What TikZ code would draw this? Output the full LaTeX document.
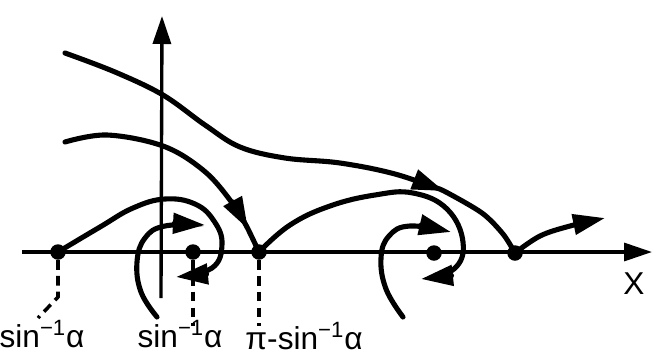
\documentclass[tikz,border=0pt]{standalone}
\usepackage{fontspec}
\setmainfont{Liberation Sans}
\usetikzlibrary{arrows.meta}
\newcommand{\asin}{sin\textsuperscript{−1}α}

\begin{document}
\begin{tikzpicture}[x=0.02cm,y=-0.02cm,
  flow/.style={line width=2.9pt,line cap=round},
  tip/.style={-{Triangle[length=6.4mm,width=4mm]}},
  dot/.style={circle,fill,inner sep=0pt,minimum size=0.31cm},
  guide/.style={line width=2pt,dash pattern=on 5.5pt off 3.5pt},
  lbl/.style={anchor=base,font=\fontsize{18}{20}\selectfont}]
\useasboundingbox (0,0) rectangle (662,356);
% axes
\draw[line width=1.9pt,-{Triangle[length=5.6mm,width=3.6mm]}] (22,252)--(652,252);
\draw[line width=1.9pt,-{Triangle[length=5.6mm,width=3.6mm]}] (161,298)--(162,16);
\node[lbl] (xlab) at (634,294) {X};
% equilibria
\node[dot] (p1) at (58,252) {};
\node[dot] (p2) at (193,252) {};
\node[dot] (p3) at (259,252) {};
\node[dot] (p4) at (434,253) {};
\node[dot] (p5) at (515,253) {};
% labels
\node[lbl] (l1) at (42,347) {\asin};
\node[lbl] (l2) at (180,347) {\asin};
\node[lbl] (l3) at (304,349) {π-\asin};
\coordinate (k1) at (58,297);
\coordinate (k2) at (38,318);
\draw[guide] (p1)--(k1)--(k2);
\draw[guide] (p2)--(193,326);
\draw[guide] (p3)--(259,326);
% trajectories
\coordinate (a1) at (444,191);
\coordinate (b1) at (432,187);
\coordinate (a2) at (248,229);
\coordinate (b2) at (243,220);
\draw[flow,tip] plot[smooth,tension=0.6] coordinates
  {(65,53) (115,72) (163,95) (205,125) (240,147) (285,158) (340,163) (395,174) (a1)};
\draw[flow] plot[smooth] coordinates {(b1) (a1) (482,213) (503,234) (p5)};
\draw[flow,tip] plot[smooth,tension=0.6] coordinates
  {(65,142) (107,135) (163,146) (203,170) (230,200) (a2)};
\draw[flow] plot[smooth] coordinates {(b2) (a2) (p3)};
\draw[flow,tip] plot[smooth,tension=0.7] coordinates
  {(p1) (100,227) (133,208) (165,199) (195,204) (214,221) (222,244) (212,268) (176,277)};
\draw[flow,tip] plot[smooth,tension=0.7] coordinates
  {(157,317) (141,292) (137,262) (145,238) (165,226) (205,225)};
\draw[flow,tip] plot[smooth,tension=0.7] coordinates
  {(p3) (290,225) (330,206) (375,195) (413,193) (447,209) (463,242) (454,269) (421,279)};
\draw[flow,tip] plot[smooth,tension=0.7] coordinates
  {(403,317) (386,289) (381,258) (389,236) (410,226) (451,232)};
\draw[flow,tip] plot[smooth,tension=0.6] coordinates
  {(p5) (540,236) (570,226) (605,218)};
\end{tikzpicture}
\end{document}
